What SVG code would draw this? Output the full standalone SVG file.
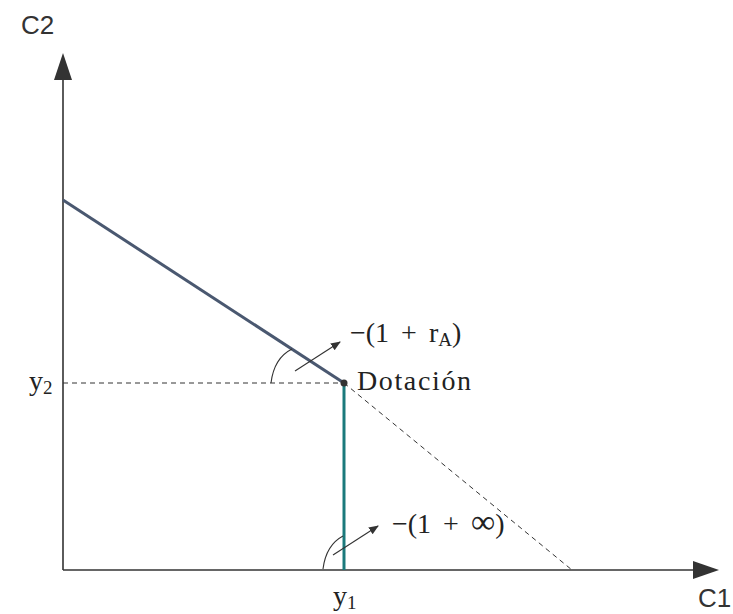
<svg xmlns="http://www.w3.org/2000/svg" width="733" height="614" viewBox="0 0 733 614">
<style>
.axis{stroke:#333;stroke-width:1.6;fill:none}
.dash{stroke:#333;stroke-width:1;stroke-dasharray:5,4;fill:none}
.thin{stroke:#333;stroke-width:1.1;fill:none}
.sans{font-family:"Liberation Sans",Arial,sans-serif;font-size:26px;fill:#333}
.math{font-family:"Liberation Serif","Times New Roman",serif;font-size:28px;fill:#222}
.sub{font-size:19px}
</style>
<defs>
<marker id="ah" markerWidth="10" markerHeight="8" refX="9" refY="4" orient="auto" markerUnits="userSpaceOnUse">
<path d="M0,0 L10,4 L0,8 Z" fill="#333"/>
</marker>
</defs>
<rect width="733" height="614" fill="#fff"/>
<g id="axes">
<line class="axis" x1="63" y1="570" x2="63" y2="78"/>
<path d="M63,53 L72,80 L54,80 Z" fill="#333"/>
<line class="axis" x1="63" y1="570" x2="694" y2="570"/>
<path d="M719,570 L693,561 L693,579 Z" fill="#333"/>
<text class="sans" x="21" y="34">C2</text>
<text class="sans" x="698" y="607">C1</text>
</g>
<g id="connectors">
<line class="dash" x1="63" y1="383" x2="344" y2="383"/>
<line class="dash" x1="344" y1="383" x2="572" y2="570"/>
<line x1="63" y1="200" x2="344" y2="383" stroke="#4a5870" stroke-width="3"/>
<line x1="344" y1="383" x2="344" y2="570" stroke="#1b7a7c" stroke-width="3"/>
<path class="thin" d="M271,383 Q274,358 292,349"/>
<line class="thin" x1="295" y1="371" x2="340" y2="342" marker-end="url(#ah)"/>
<path class="thin" d="M323,569 Q326,545 343,536"/>
<line class="thin" x1="333" y1="555" x2="378" y2="526" marker-end="url(#ah)"/>
</g>
<g id="dotacion">
<circle cx="344" cy="383" r="3.5" fill="#333"/>
<text class="math" x="357" y="390" textLength="114">Dotación</text>
</g>
<g id="labels">
<text class="math" x="350" y="342" word-spacing="5">−(1 + r<tspan class="sub" dy="4">A</tspan><tspan dy="-4">)</tspan></text>
<text class="math" x="392" y="533" word-spacing="5">−(1 + <tspan font-size="34">∞</tspan>)</text>
<text class="math" x="29" y="390">y<tspan class="sub" dy="4">2</tspan></text>
<text class="math" x="333" y="605">y<tspan class="sub" dy="4">1</tspan></text>
</g>
</svg>
